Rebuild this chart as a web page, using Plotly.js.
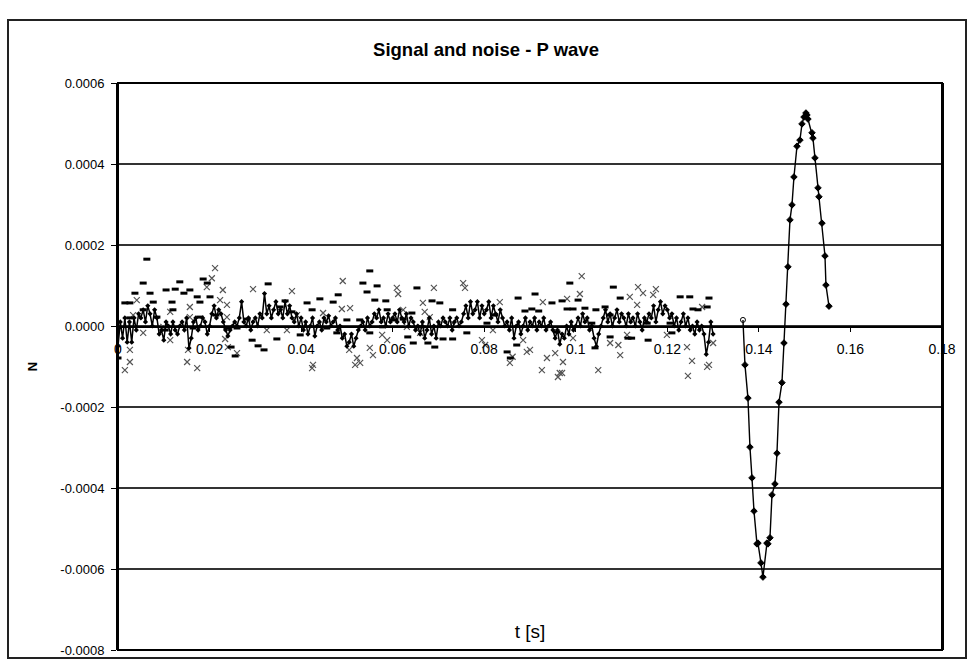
<!DOCTYPE html>
<html>
<head>
<meta charset="utf-8">
<script src="https://cdn.plot.ly/plotly-3.0.1.min.js"></script>
<style>
  html, body { margin: 0; padding: 0; background: #fff; }
  #chart { width: 972px; height: 664px; }
</style>
</head>
<body>
<div id="chart"></div>
<script>
// All amplitudes below are in units of 1e-5 N
const UNIT = 1e-5;

// Noise trace drawn as a line, sampled every 0.0005 s from t = 0
const noiseStart = 0;
const noiseStep = 0.0005;
const noiseLine = [
  -5, 1, -3, 2, -4, 1, -4, 2, -1, 3, 2,
  4, 1, 5, 3, 0, 4, 2, -2, -1, -3.5,
  1, 0, -2, 1, -1, -2, 0, 1, -1, 2,
  -5.5, -3, 1, 2, -1, 0, 2, 1, -2, 0,
  3, 5, 2, 4, 3, 1, -1, -2.5, -1, 0,
  1, 0, 2, 6, 1, 0, 2, -1, 1, 2,
  0, 3, 2, 8, 3, 5, 2, 4, 6, 3,
  4, 2, 6, 3, 5, 2, 1, 3, 0, 2,
  -1, 1, -2, 0, 2, -2.5, 0, 1, -1, 2,
  1, 2.5, 0, 1, 2, -1, 0, -3, -2, -5,
  -4, -2, -5, -3, -1, 0, 1, -1, 2, 0,
  1, 3, 2, 4, 1, 2, 0, 3, 1, 2,
  3, 1, 4, 2, 1, 3, 0, 2, 1, -1,
  0, -2, 1, -3, -1, 2, -2, 0, -3, 1,
  0, 2, 1, 0, 2, -1, 1, 2, 0, 1,
  3, 5, 2, 6, 3, 4, 6, 2, 5, 3,
  4, 6, 2, 5, 3, 1, 4, 2, 0, 1,
  -1, 2, -3, 0, 1, -2, 0, 2, -1, 1,
  0, 2, -1, 1, 0, 2, -1, 0, 1, -1,
  -3, -1, -4.5, -2, -3, 0, -2, 1, -1, 0,
  2, 0, 3, 1, 2, -1, 0, -3, -5, -2,
  0, 2, 4, 1, 3, 0, 2, 4, 1, 3,
  2, 0, 3, 1, 2, 0, 3, 1, -1, 2,
  1, 3, 2, 5, 1, 4, 6, 3, 5, 4,
  2, 3, 0, 2, -1, 1, 3, 0, 2, -1,
  0, -2, 1, -1, 0, -2, -7, -4, 1, -2
];

// Noise component drawn with "-" markers
const dashT = [0, 0.0015, 0.0026, 0.0026, 0.0037, 0.0055, 0.0055, 0.0063, 0.0070, 0.0077,
  0.0085, 0.0103, 0.0105, 0.0118, 0.0120, 0.0125, 0.0135, 0.0144, 0.0157, 0.0164,
  0.0173, 0.0179, 0.0179, 0.0186, 0.0195, 0.0201, 0.0214, 0.0238, 0.0247, 0.0256,
  0.0260, 0.0282, 0.0293, 0.0306, 0.0319, 0.0328, 0.0347, 0.0354, 0.0365, 0.0380,
  0.0398, 0.0413, 0.0424, 0.0441, 0.0456, 0.0470, 0.0478, 0.0481, 0.0500, 0.0528,
  0.0535, 0.0544, 0.0550, 0.0550, 0.0561, 0.0566, 0.0578, 0.0585, 0.0588, 0.0601,
  0.0623, 0.0633, 0.0642, 0.0645, 0.0653, 0.0664, 0.0677, 0.0686, 0.0692, 0.0703,
  0.0710, 0.0731, 0.0731, 0.0762, 0.0806, 0.0823, 0.0850, 0.0857, 0.0871, 0.0874,
  0.0889, 0.0904, 0.0911, 0.0919, 0.0948, 0.0959, 0.0970, 0.0981, 0.0987, 0.0994,
  0.1005, 0.1020, 0.1035, 0.1042, 0.1044, 0.1064, 0.1075, 0.1075, 0.1082, 0.1097,
  0.1114, 0.1122, 0.1156, 0.1158, 0.1206, 0.1210, 0.1228, 0.1249, 0.1256, 0.1267,
  0.1287, 0.1291];
const dashV = [-7.9, 5.7, 5.7, 2, 8.1, 10.6, 4, 16.5, 8.1, 5.9,
  2.2, -1, 8.9, 5.9, 4, 9.1, 10.9, 8.1, 8.9, -0.5,
  7.2, 5.9, 2.2, 11.6, 10.6, 7.2, 2.7, -0.5, -5.2, -7.4,
  -0.5, 1.7, -3.5, -4.9, -5.9, 10.4, -3.2, 4.7, 6.2, 3.5,
  -2.2, 5.7, 4, 6.7, -0.5, 5.9, -1.7, 7.7, 1.5, 1.5,
  10.6, 8.4, 13.6, -1.7, 6.4, 9.9, -0.2, 6.2, 4, 1.5,
  1.7, -2.7, 3.2, -4.2, 9.4, -0.2, -4.2, 6.2, -5.2, 5.7,
  -3.2, -3.2, 4, -1.7, 0.7, 2.7, -6.4, -7.9, -4.7, 6.9,
  3.7, 4.2, 7.9, 3.7, 5.7, -1.5, 6.2, 4.2, 10.6, 4.2,
  6.4, 4.4, 0.7, -5.4, 4, 4.7, -2.7, 2.7, 9.6, 6.9,
  -3, -3, 0.7, -3.5, 0.7, -1.7, 7.2, 7.2, 4.2, 4,
  4.7, 6.9];

// Noise component drawn with "x" markers
const crossT = [0.0015, 0.0026, 0.0026, 0.0033, 0.0041, 0.0055, 0.0099, 0.0114, 0.0114, 0.0151,
  0.0153, 0.0157, 0.0157, 0.0173, 0.0194, 0.0205, 0.0212, 0.0223, 0.0229, 0.0234,
  0.0238, 0.0238, 0.0240, 0.0260, 0.0295, 0.0325, 0.0369, 0.0380, 0.0391, 0.0424,
  0.0426, 0.0448, 0.0489, 0.0491, 0.0505, 0.0507, 0.0518, 0.0522, 0.0529, 0.0550,
  0.0557, 0.0577, 0.0588, 0.0609, 0.0612, 0.0623, 0.0631, 0.0660, 0.0666, 0.0670,
  0.0681, 0.0690, 0.0731, 0.0754, 0.0758, 0.0795, 0.0802, 0.0819, 0.0834, 0.0856,
  0.0862, 0.0885, 0.0893, 0.0900, 0.0926, 0.0928, 0.0937, 0.0955, 0.0961, 0.0965,
  0.0970, 0.0972, 0.0981, 0.0994, 0.1009, 0.1013, 0.1049, 0.1075, 0.1093, 0.1097,
  0.1112, 0.1118, 0.1134, 0.1136, 0.1147, 0.1169, 0.1175, 0.1199, 0.1243, 0.1245,
  0.1254, 0.1276, 0.1287, 0.1291, 0.1300];
const crossV = [-10.9, -8.9, -5.9, 2.7, 6.4, -1.7, -0.2, -3.5, 3.5, -8.9,
  -5.9, 4.7, 2.2, -10.4, 9.6, 11.8, 14.3, 6.4, 8.9, -3.2,
  5.2, 2.2, -5.2, -6.7, 9.1, -1, -1, 8.6, 2.7, -10.4,
  -9.6, 3.2, 4.2, 11.1, -5.9, 4.4, -9.6, -7.9, -9.1, -5.4,
  -7.2, -2.2, -3.5, 9.4, 7.9, 4, -0.2, -1.7, 5.7, 3.5,
  2.2, 9.4, 0.7, 10.6, 9.4, -3.5, -4.7, -1, 5.9, -9.1,
  -7.6, -3.5, -6.4, -5.9, -10.9, 5.9, -7.9, -6.7, -12.6, -11.6,
  -11.6, -8.9, 6.7, -3, 7.9, 12.3, -10.9, -4.2, -4.7, -7.2,
  -2.2, 7.2, 5.2, 9.6, 8.1, 7.7, 9.1, -2.2, -5.2, -12.3,
  -8.6, 4.7, -10.1, -9.6, -4.2];

// P-wave signal
const signalT = [0.13652, 0.13696, 0.13761, 0.13805, 0.13849, 0.13893, 0.13958, 0.13980, 0.14045, 0.14089,
  0.14176, 0.14198, 0.14242, 0.14286, 0.14351, 0.14395, 0.14439, 0.14504, 0.14548, 0.14592,
  0.14635, 0.14679, 0.14723, 0.14766, 0.14832, 0.14897, 0.14941, 0.14985, 0.15028, 0.15050,
  0.15072, 0.15160, 0.15181, 0.15225, 0.15291, 0.15312, 0.15378, 0.15444, 0.15465, 0.15531];
const signalV = [1.5, -9.6, -17.8, -29.9, -37.5, -45.7, -53.8, -53.6, -58.5, -62,
  -53.6, -53.8, -52.3, -41.7, -39, -31.4, -18.8, -14, -4.2, 5.4,
  14.6, 26.2, 29.9, 36.8, 44.4, 45.9, 49.9, 51.6, 52.6, 52.1,
  51.1, 47.7, 46.4, 41.5, 34.1, 31.9, 25.4, 17.3, 10.1, 4.9];

const yTicks = [-0.0008, -0.0006, -0.0004, -0.0002, 0, 0.0002, 0.0004, 0.0006];
const yTickLabels = ['-0.0008', '-0.0006', '-0.0004', '-0.0002', '0.0000', '0.0002', '0.0004', '0.0006'];
const xTicks = [0, 0.02, 0.04, 0.06, 0.08, 0.1, 0.12, 0.14, 0.16, 0.18];
const xTickLabels = ['0', '0.02', '0.04', '0.06', '0.08', '0.1', '0.12', '0.14', '0.16', '0.18'];

const toN = arr => arr.map(v => v * UNIT);
const FONT = '"Liberation Sans", Arial, sans-serif';

const signalSymbols = signalT.map((_, i) => i === 0 ? 'circle-open' : 'diamond');

const traces = [
  {
    type: 'scatter', mode: 'markers', name: 'noise x',
    x: crossT, y: toN(crossV),
    marker: { symbol: 'x-thin-open', size: 6, color: '#555', line: { color: '#555', width: 1.2 } },
    showlegend: false, hoverinfo: 'skip'
  },
  {
    type: 'scatter', mode: 'markers', name: 'noise -',
    x: dashT, y: toN(dashV),
    marker: { symbol: 'line-ew-open', size: 5, color: '#000', line: { color: '#000', width: 3 } },
    showlegend: false, hoverinfo: 'skip'
  },
  {
    type: 'scatter', mode: 'lines+markers', name: 'noise',
    x0: noiseStart, dx: noiseStep, y: toN(noiseLine),
    line: { color: '#000', width: 1.5 },
    marker: { symbol: 'diamond', size: 4, color: '#000' },
    showlegend: false, hoverinfo: 'skip'
  },
  {
    type: 'scatter', mode: 'lines+markers', name: 'signal',
    x: signalT, y: toN(signalV),
    line: { color: '#000', width: 1.4 },
    marker: { symbol: signalSymbols, size: 5, color: '#000', line: { color: '#000', width: 1 } },
    showlegend: false, hoverinfo: 'skip'
  }
];

const layout = {
  width: 972, height: 664,
  margin: { l: 118, r: 30, t: 83, b: 14 },
  paper_bgcolor: '#fff', plot_bgcolor: '#fff',
  font: { family: FONT, color: '#000' },
  showlegend: false,
  title: {
    text: '<b>Signal and noise - P wave</b>',
    font: { family: FONT, size: 18.5, color: '#000' },
    x: 0.5, xref: 'container', xanchor: 'center',
    y: 1 - 50 / 664, yref: 'container', yanchor: 'middle'
  },
  xaxis: {
    range: [0, 0.18], tickvals: xTicks, ticktext: xTickLabels,
    anchor: 'free', position: 0.8 / 1.4,
    showline: true, linecolor: '#000', linewidth: 1.5,
    ticks: 'outside', ticklen: 4, tickcolor: '#000', tickwidth: 1,
    ticklabelstandoff: 6,
    showgrid: false, zeroline: false,
    tickfont: { family: FONT, size: 14, color: '#000' },
    title: { text: 't [s]', font: { family: FONT, size: 19, color: '#000' }, standoff: 268 }
  },
  yaxis: {
    range: [-0.0008, 0.0006], tickvals: yTicks, ticktext: yTickLabels,
    showline: true, mirror: true, linecolor: '#000', linewidth: 2,
    ticks: 'outside', ticklen: 5, tickcolor: '#000',
    ticklabelstandoff: 4,
    showgrid: true, gridcolor: '#333', gridwidth: 1.5,
    zeroline: false,
    tickfont: { family: FONT, size: 13, color: '#000' },
    title: { text: '<b>N</b>', font: { family: FONT, size: 13, color: '#000' }, standoff: 20 }
  },
  shapes: [
    { type: 'rect', xref: 'paper', yref: 'paper', x0: 0, x1: 1, y0: 0, y1: 1,
      line: { color: '#000', width: 2 }, layer: 'above' },
    { type: 'rect', xref: 'paper', yref: 'paper',
      x0: (8 - 118) / 824, x1: (966 - 118) / 824,
      y0: (650 - 658) / 567, y1: (650 - 20) / 567,
      line: { color: '#222', width: 2 }, layer: 'above' }
  ]
};

Plotly.newPlot('chart', traces, layout, { staticPlot: true, displayModeBar: false });
</script>
</body>
</html>
